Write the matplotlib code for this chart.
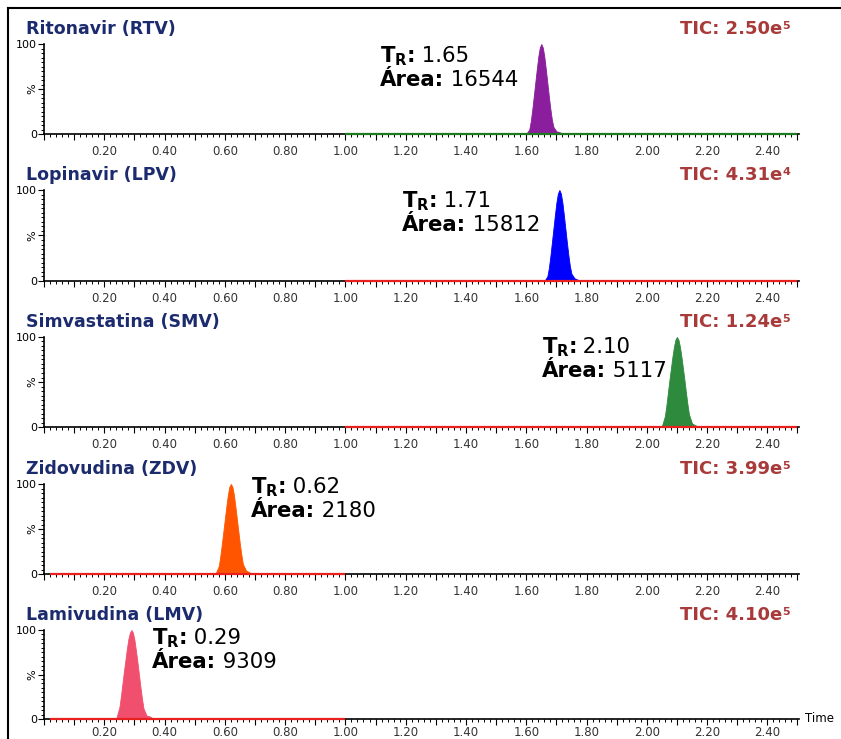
import numpy as np
import matplotlib.pyplot as plt
from matplotlib.lines import Line2D
from matplotlib.ticker import MultipleLocator, FuncFormatter
from matplotlib.transforms import offset_copy

plt.rcParams['font.family'] = ['DejaVu Sans']
plt.rcParams['mathtext.fontset'] = 'dejavusans'

# compounds, top to bottom
names = ['Ritonavir (RTV)', 'Lopinavir (LPV)', 'Simvastatina (SMV)',
         'Zidovudina (ZDV)', 'Lamivudina (LMV)']
tic_mant = ['2.50', '4.31', '1.24', '3.99', '4.10']
tic_exp = ['5', '4', '5', '5', '5']
rt = [1.65, 1.71, 2.10, 0.62, 0.29]
areas = [16544, 15812, 5117, 2180, 9309]

# baseline trace ranges (min)
trace_start = [1.00, 1.00, 1.00, 0.02, 0.02]
trace_end = [2.50, 2.50, 2.50, 1.00, 1.00]

# peak profiles (offset from T_R in min, % intensity)
peak_offsets = [-0.06, -0.05, -0.04, -0.035, -0.03, -0.025, -0.02, -0.015, -0.01, -0.005, 0.0,
                0.005, 0.01, 0.015, 0.02, 0.025, 0.03, 0.035, 0.04, 0.05, 0.06, 0.075]
h_rtv = [0, 0, 5, 14, 27, 42, 57, 72, 86, 96, 100, 96, 86, 72, 57, 42, 28, 16, 8, 3, 2, 0]
h_lpv = [0, 0, 5, 14, 27, 42, 57, 72, 86, 96, 100, 96, 86, 72, 57, 42, 28, 16, 8, 3, 1.5, 0]
h_smv = [0, 1, 12, 24, 38, 52, 65, 78, 89, 97, 100, 97, 89, 78, 65, 52, 38, 25, 14, 4, 2, 0]
h_zdv = [0, 1, 9, 20, 33, 47, 61, 75, 88, 97, 100, 97, 88, 75, 61, 47, 33, 21, 11, 4, 2, 0]
h_lmv = [0, 1, 13, 25, 39, 53, 66, 79, 90, 97, 100, 97, 89, 77, 64, 50, 36, 23, 12, 4, 3, 0]
heights = [h_rtv, h_lpv, h_smv, h_zdv, h_lmv]

fill_colors = ['#8A1E9C', '#0000FF', '#2E8B3E', '#FF5500', '#F0506E']
base_colors = ['#1E7A1E', '#E8201E', '#E8201E', '#E8201E', '#E8201E']

# layout (pixels of a 841x739 canvas)
W, H = 841, 739
ax_left, ax_right = 44, 799
ax_tops = [44, 190, 337, 484, 630]
ax_bots = [134, 281, 427, 574, 719]
label_pos = [(1.116, 80), (1.189, 81), (1.651, 82), (0.688, 90), (0.359, 84)]

fig = plt.figure(figsize=(W / 100, H / 100), dpi=100)
renderer = fig.canvas.get_renderer()


def two_part(ax, x, y, dy_px, bold, normal):
    tr = offset_copy(ax.transData, fig=fig, x=0, y=dy_px, units='dots')
    t1 = ax.text(x, y, bold, fontsize=15.3, fontweight='bold', va='baseline',
                 ha='left', transform=tr)
    w = t1.get_window_extent(renderer).width
    tr2 = offset_copy(ax.transData, fig=fig, x=w, y=dy_px, units='dots')
    ax.text(x, y, ' ' + normal, fontsize=15.3, va='baseline', ha='left', transform=tr2)


for i in range(5):
    ax = fig.add_axes([ax_left / W, 1 - ax_bots[i] / H,
                       (ax_right - ax_left) / W, (ax_bots[i] - ax_tops[i]) / H])
    t = np.array(peak_offsets) + rt[i]
    ax.fill_between(t, heights[i], 0, color=fill_colors[i], lw=0.6,
                    edgecolor=fill_colors[i], zorder=3)
    ax.hlines(0, trace_start[i], trace_end[i], color=base_colors[i], lw=1.6,
              zorder=4, clip_on=False)

    ax.set_xlim(0, 2.505)
    ax.set_ylim(0, 100)
    for s in ['top', 'right']:
        ax.spines[s].set_visible(False)
    ax.spines['left'].set_linewidth(1.2)
    ax.spines['bottom'].set_linewidth(1.2)

    ax.xaxis.set_major_locator(MultipleLocator(0.1))
    ax.xaxis.set_minor_locator(MultipleLocator(0.02))
    ax.xaxis.set_major_formatter(FuncFormatter(
        lambda v, p: '%.2f' % v if (round(v * 10) % 2 == 0 and v > 0.05) else ''))
    ax.tick_params(axis='x', which='major', length=4, width=0.8, direction='out',
                   labelsize=8.5, labelcolor='#333333', pad=4 if i < 4 else 1)
    ax.tick_params(axis='x', which='minor', length=2, width=0.7, direction='out')

    ax.set_yticks([0, 50, 100])
    ax.set_yticklabels(['0', '%', '100'])
    ax.yaxis.set_minor_locator(MultipleLocator(5))
    ax.tick_params(axis='y', which='major', length=4, width=0.8, labelsize=8, pad=1)
    ax.tick_params(axis='y', which='minor', length=2, width=0.7)
    ax.get_yticklabels()[1].set_rotation(90)
    ax.get_yticklabels()[1].set_va('center')

    ybase = 1 - (ax_tops[i] - 10) / H
    fig.text(26 / W, ybase, names[i], fontsize=12.5, fontweight='bold',
             color='#1C2B6E', va='baseline', ha='left')
    te = fig.text(790 / W, ybase + 5 / H, tic_exp[i], fontsize=8, fontweight='bold',
                  color='#A83A3A', va='baseline', ha='right')
    we = te.get_window_extent(renderer).width
    fig.text((790 - we) / W, ybase, 'TIC: %se' % tic_mant[i], fontsize=13,
             fontweight='bold', color='#A83A3A', va='baseline', ha='right')

    lx, ly = label_pos[i]
    two_part(ax, lx, ly, 0, r'$\mathbf{T_R}$:', '%.2f' % rt[i])
    two_part(ax, lx, ly, -24, 'Área:', str(areas[i]))

fig.text(805 / W, 1 - 719 / H, 'Time', fontsize=8.5, va='center', ha='left')

# frame lines (top and left)
fig.add_artist(Line2D([8 / W, 1], [1 - 8 / H, 1 - 8 / H], color='black', lw=1.5))
fig.add_artist(Line2D([8 / W, 8 / W], [1 - 8 / H, 0], color='black', lw=1.5))

fig.savefig('out.png', dpi=100)
